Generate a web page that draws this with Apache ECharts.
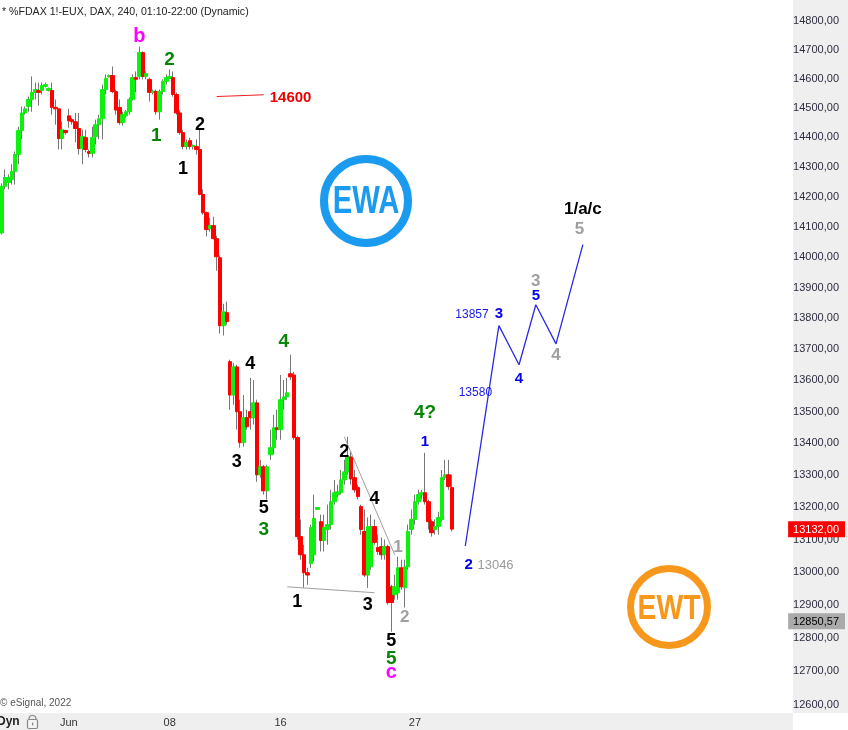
<!DOCTYPE html>
<html>
<head>
<meta charset="utf-8">
<title>FDAX 240</title>
<script src="https://cdn.jsdelivr.net/npm/echarts@6/dist/echarts.min.js"></script>
<style>
  html, body { margin: 0; padding: 0; background: #fff; }
  #chart { width: 848px; height: 730px; }
</style>
</head>
<body>
<div id="chart"></div>
<script>
// 240 min candles, [open, close, low, high]
var bars = [
  [14080,14235,14075,14245],[14235,14265,14225,14292],[14248,14265,14225,14275],[14258,14285,14241,14309],
  [14285,14342,14241,14352],[14342,14423,14309,14436],[14423,14483,14393,14505],[14483,14497,14477,14505],
  [14505,14529,14487,14539],[14529,14553,14487,14608],[14553,14563,14529,14587],[14560,14553,14508,14587],
  [14560,14577,14546,14587],[14574,14580,14570,14587],[14560,14567,14556,14570],[14560,14502,14477,14587],
  [14502,14497,14443,14529],[14497,14396,14359,14497],[14396,14426,14359,14453],[14423,14416,14409,14425],
  [14473,14456,14433,14497],[14460,14453,14443,14467],[14453,14430,14383,14483],[14430,14362,14342,14483],
  [14362,14403,14309,14426],[14399,14359,14349,14426],[14352,14346,14332,14359],[14346,14399,14332,14436],
  [14403,14443,14376,14460],[14443,14463,14393,14477],[14463,14563,14393,14580],[14563,14601,14546,14615],
  [14606,14611,14604,14615],[14611,14556,14550,14642],[14556,14493,14477,14563],[14502,14450,14443,14529],
  [14450,14477,14440,14487],[14473,14487,14467,14493],[14487,14529,14477,14536],[14529,14604,14525,14615],
  [14604,14598,14553,14625],[14608,14690,14598,14711],[14690,14608,14598,14694],[14608,14618,14598,14625],
  [14598,14553,14522,14604],[14553,14558,14546,14563],[14556,14487,14477,14563],[14487,14556,14460,14563],
  [14556,14591,14546,14598],[14591,14604,14580,14615],[14601,14608,14598,14632],[14604,14546,14539,14625],
  [14546,14483,14477,14553],[14483,14416,14409,14493],[14416,14369,14359,14426],[14369,14383,14359,14393],
  [14389,14369,14359,14399],[14369,14373,14359,14376],[14369,14359,14342,14393],[14359,14208,14205,14426],
  [14208,14147,14140,14225],[14147,14091,14068,14150],[14094,14104,14084,14130],[14104,14061,14058,14134],
  [14061,14001,13955,14071],[13998,13776,13750,14005],[13776,13821,13744,13847],[13818,13789,13779,13854],
  // after the weekend gap
  [13660,13553,13506,13666],[13553,13643,13522,13656],[13643,13500,13443,13650],[13500,13402,13386,13538],
  [13402,13481,13389,13553],[13481,13452,13443,13506],[13500,13481,13443,13608],[13481,13528,13459,13601],
  [13528,13301,13279,13538],[13301,13326,13292,13348],[13326,13251,13239,13332],[13251,13326,13224,13332],
  [13364,13386,13348,13443],[13386,13449,13364,13490],[13449,13443,13411,13506],[13443,13538,13411,13617],
  [13538,13547,13506,13601],[13547,13560,13538,13608],[13621,13611,13601,13682],[13617,13418,13411,13627],
  [13418,13109,13100,13424],[13109,13053,13038,13162],[13053,12998,12952,13084],[12998,12991,12961,13013],
  [13026,13137,13013,13146],[13053,13165,13032,13239],[13193,13199,13193,13199],[13155,13097,13063,13177],
  [13097,13137,13063,13177],[13131,13146,13084,13208],[13146,13217,13131,13254],[13217,13245,13208,13285],
  [13239,13248,13230,13270],[13245,13285,13239,13316],[13285,13310,13270,13348],[13310,13357,13301,13421],
  [13357,13288,13270,13373],[13292,13254,13245,13316],[13261,13233,13224,13270],[13202,13131,13115,13208],
  [13125,12991,12985,13193],[12991,13140,12952,13168],[13016,13140,13007,13177],[13140,13091,13084,13162],
  [13075,13063,13053,13115],[13078,13053,13038,13106],[13053,13078,13038,13100],[13078,12907,12901,13084],
  [12955,12907,12819,12961],[12931,12955,12916,12992],[12937,13013,12916,13047],[13013,12955,12946,13038],
  [12952,13016,12892,13038],[13016,13125,13007,13146],[13131,13162,13115,13193],[13162,13217,13146,13239],
  [13217,13239,13208,13254],[13239,13245,13224,13254],[13245,13217,13208,13370],[13217,13155,13131,13224],
  [13155,13121,13109,13162],[13131,13140,13115,13162],[13140,13168,13115,13186],[13162,13292,13155,13316],
  [13292,13301,13285,13348],[13301,13264,13254,13348],[13261,13132,13125,13301]
];

var slotCount = 234;          // bar slots on the time axis (empty ones on the right)
var tickBars = [20, 50, 83, 123];
var tickLabels = ['Jun', '08', '16', '27'];
var priceTicks = [12600,12700,12800,12900,13000,13100,13200,13300,13400,13500,13600,
                  13700,13800,13900,14000,14100,14200,14300,14400,14500,14600,14700,14800];
var lastPrice = 13132;
var markPrice = 12850.57;

// projected count (blue zig-zag)
var projBars = [138, 148, 154, 159, 165, 173];
var projPrices = [13080, 13776, 13650, 13844, 13717, 14041];
// 14600 level line
var levelBars = [64, 78];
var levelPrices = [14539, 14545];
// grey trend lines
var upperBars = [102, 117];
var upperPrices = [13420, 13053];
var lowerBars = [85, 111];
var lowerPrices = [12955, 12937];

// wave labels
var waveText  = ['b','2','1','2','1','14600','4','4','3','5','3','2','4','1','3','1','2','5','5','c',
                 '1','4?','13580','13857','3','4','5','3','4','1/a/c','5','2','13046'];
var waveBar   = [41,50,46,59,54,86,74,84,70,78,78,102,111,88,109,118,120,116,116,116,
                 126,126,141,140,148,154,159,159,165,173,172,139,147];
var wavePrice = [14745,14666,14406,14443,14292,14536,13653,13724,13341,13196,13131,13373,13224,12910,12901,13075,12862,12792,12738,12696,
                 13405,13497,13560,13812,13815,13605,13873,13919,13679,14157,14091,13022,13019];
var waveKind  = ['mag','grn','grn','blk','blk','red','blk','grn','blk','blk','grn','blk','blk','blk','blk','gry','gry','blk','grn','mag',
                 'blu','grn','bnum','bnum','blu','blu','blu','gry','gry','big','gry','blu','gnum'];

var kindStyle = {
  mag:  { color: '#ff00ff', fontSize: 20, fontWeight: 'bold' },
  grn:  { color: '#078507', fontSize: 19, fontWeight: 'bold' },
  blk:  { color: '#000000', fontSize: 18, fontWeight: 'bold' },
  gry:  { color: '#a0a0a0', fontSize: 17, fontWeight: 'bold' },
  blu:  { color: '#0000ee', fontSize: 15, fontWeight: 'bold' },
  bnum: { color: '#1a1ae6', fontSize: 12, fontWeight: 'normal' },
  gnum: { color: '#999999', fontSize: 13, fontWeight: 'normal' },
  red:  { color: '#ee0000', fontSize: 15, fontWeight: 'bold' },
  big:  { color: '#000000', fontSize: 17, fontWeight: 'bold' }
};

var FONT = '"Liberation Sans", Arial, sans-serif';

var slots = [];
for (var i = 0; i < slotCount; i++) slots.push(String(i));

function pairs(xs, ys) {
  return xs.map(function (x, k) { return [x, ys[k]]; });
}

var bodies = bars.map(function (b) {
  return [b[0], b[1], Math.min(b[0], b[1]), Math.max(b[0], b[1])];
});

var labelData = waveText.map(function (t, k) {
  var s = kindStyle[waveKind[k]];
  return {
    value: [waveBar[k], wavePrice[k]],
    label: {
      show: true, position: 'inside', formatter: t,
      color: s.color, fontSize: s.fontSize, fontWeight: s.fontWeight, fontFamily: FONT,
      textBorderWidth: 0
    }
  };
});

function fmtPrice(v) {
  return v.toFixed(2).replace('.', ',');
}

var chart = echarts.init(document.getElementById('chart'));
chart.setOption({
  animation: false,
  backgroundColor: '#ffffff',
  grid: { left: -2, right: 55, top: 0, bottom: 18 },
  xAxis: {
    type: 'category',
    data: slots,
    boundaryGap: true,
    axisLine: { show: false },
    axisTick: { show: false },
    splitLine: { show: false },
    axisLabel: {
      interval: function (idx) { return tickBars.indexOf(idx) >= 0; },
      formatter: function (v) {
        var k = tickBars.indexOf(Number(v));
        return k >= 0 ? tickLabels[k] : '';
      },
      color: '#333', fontSize: 11, fontFamily: FONT, margin: 5
    }
  },
  yAxis: {
    type: 'log',
    logBase: 10,
    position: 'right',
    min: 12579,
    max: 14873,
    axisLine: { show: false },
    axisTick: { show: false },
    splitLine: { show: false },
    axisLabel: {
      customValues: priceTicks.concat([markPrice, lastPrice]),
      margin: 2,
      formatter: function (v) {
        if (Math.abs(v - lastPrice) < 0.01) return '{last|' + fmtPrice(v) + '}';
        if (Math.abs(v - markPrice) < 0.01) return '{mark|' + fmtPrice(v) + '}';
        return '{n|' + fmtPrice(v) + '}';
      },
      rich: {
        n: { color: '#2d2d40', fontSize: 11, fontFamily: FONT, padding: [2, 6, 2, 5] },
        last: { color: '#ffffff', fontSize: 11, fontFamily: FONT, backgroundColor: '#ff0000', padding: [3, 6, 2, 5] },
        mark: { color: '#000000', fontSize: 11, fontFamily: FONT, backgroundColor: '#aaaaaa', padding: [3, 6, 2, 5] }
      }
    }
  },
  series: [
    {
      name: 'wicks',
      type: 'candlestick',
      data: bars,
      barWidth: 1,
      itemStyle: { color: '#777777', color0: '#777777', borderColor: '#777777', borderColor0: '#777777', borderWidth: 1 }
    },
    {
      name: 'bodies',
      type: 'candlestick',
      data: bodies,
      barWidth: 4,
      itemStyle: { color: '#0ef00e', color0: '#ff0000', borderColor: '#0ef00e', borderColor0: '#ff0000', borderWidth: 1 }
    },
    {
      name: 'level',
      type: 'line',
      data: pairs(levelBars, levelPrices),
      symbol: 'none',
      lineStyle: { color: '#ee2222', width: 1 }
    },
    {
      name: 'upper',
      type: 'line',
      data: pairs(upperBars, upperPrices),
      symbol: 'none',
      lineStyle: { color: '#a0a0a0', width: 1 }
    },
    {
      name: 'lower',
      type: 'line',
      data: pairs(lowerBars, lowerPrices),
      symbol: 'none',
      lineStyle: { color: '#a0a0a0', width: 1 }
    },
    {
      name: 'projection',
      type: 'line',
      data: pairs(projBars, projPrices),
      symbol: 'none',
      lineStyle: { color: '#2a2ae6', width: 1.3 }
    },
    {
      name: 'waves',
      type: 'scatter',
      data: labelData,
      symbolSize: 1,
      itemStyle: { color: 'transparent', opacity: 1 },
      z: 10
    }
  ],
  graphic: [
    { type: 'rect', z: -10, shape: { x: 793, y: 0, width: 55, height: 713 }, style: { fill: '#efefef' } },
    { type: 'rect', z: -10, shape: { x: 0, y: 713, width: 793, height: 17 }, style: { fill: '#efefef' } },
    { type: 'text', x: 2, y: 12, style: { text: '* %FDAX 1!-EUX, DAX, 240, 01:10-22:00 (Dynamic)', fill: '#222', font: '10.6px ' + FONT, textVerticalAlign: 'middle' } },
    { type: 'text', x: 0, y: 703, style: { text: '\u00a9 eSignal, 2022', fill: '#555', font: '10px ' + FONT, textVerticalAlign: 'middle' } },
    { type: 'text', x: -3, y: 722, style: { text: 'Dyn', fill: '#222', font: 'bold 12px ' + FONT, textVerticalAlign: 'middle' } },
    // padlock
    { type: 'arc', shape: { cx: 32.5, cy: 719, r: 3.5, startAngle: Math.PI, endAngle: 2 * Math.PI }, style: { stroke: '#888', fill: null, lineWidth: 1.2 } },
    { type: 'rect', shape: { x: 27.5, y: 719.5, width: 10, height: 9, r: 1.5 }, style: { stroke: '#888', fill: '#f4f4f4', lineWidth: 1.2 } },
    { type: 'rect', shape: { x: 32, y: 722.5, width: 1.2, height: 3 }, style: { fill: '#888' } },
    // EWA logo
    { type: 'circle', shape: { cx: 366, cy: 201, r: 42 }, style: { stroke: '#1a9bef', fill: null, lineWidth: 8 } },
    { type: 'text', x: 366, y: 203, scaleX: 0.77, style: { text: 'EWA', fill: '#1a9bef', font: 'bold 38px ' + FONT, textAlign: 'center', textVerticalAlign: 'middle' } },
    // EWT logo
    { type: 'circle', shape: { cx: 669, cy: 607, r: 38.5 }, style: { stroke: '#f7981d', fill: null, lineWidth: 7 } },
    { type: 'text', x: 669, y: 609, scaleX: 0.81, style: { text: 'EWT', fill: '#f7981d', font: 'bold 35px ' + FONT, textAlign: 'center', textVerticalAlign: 'middle' } }
  ]
});
</script>
</body>
</html>
